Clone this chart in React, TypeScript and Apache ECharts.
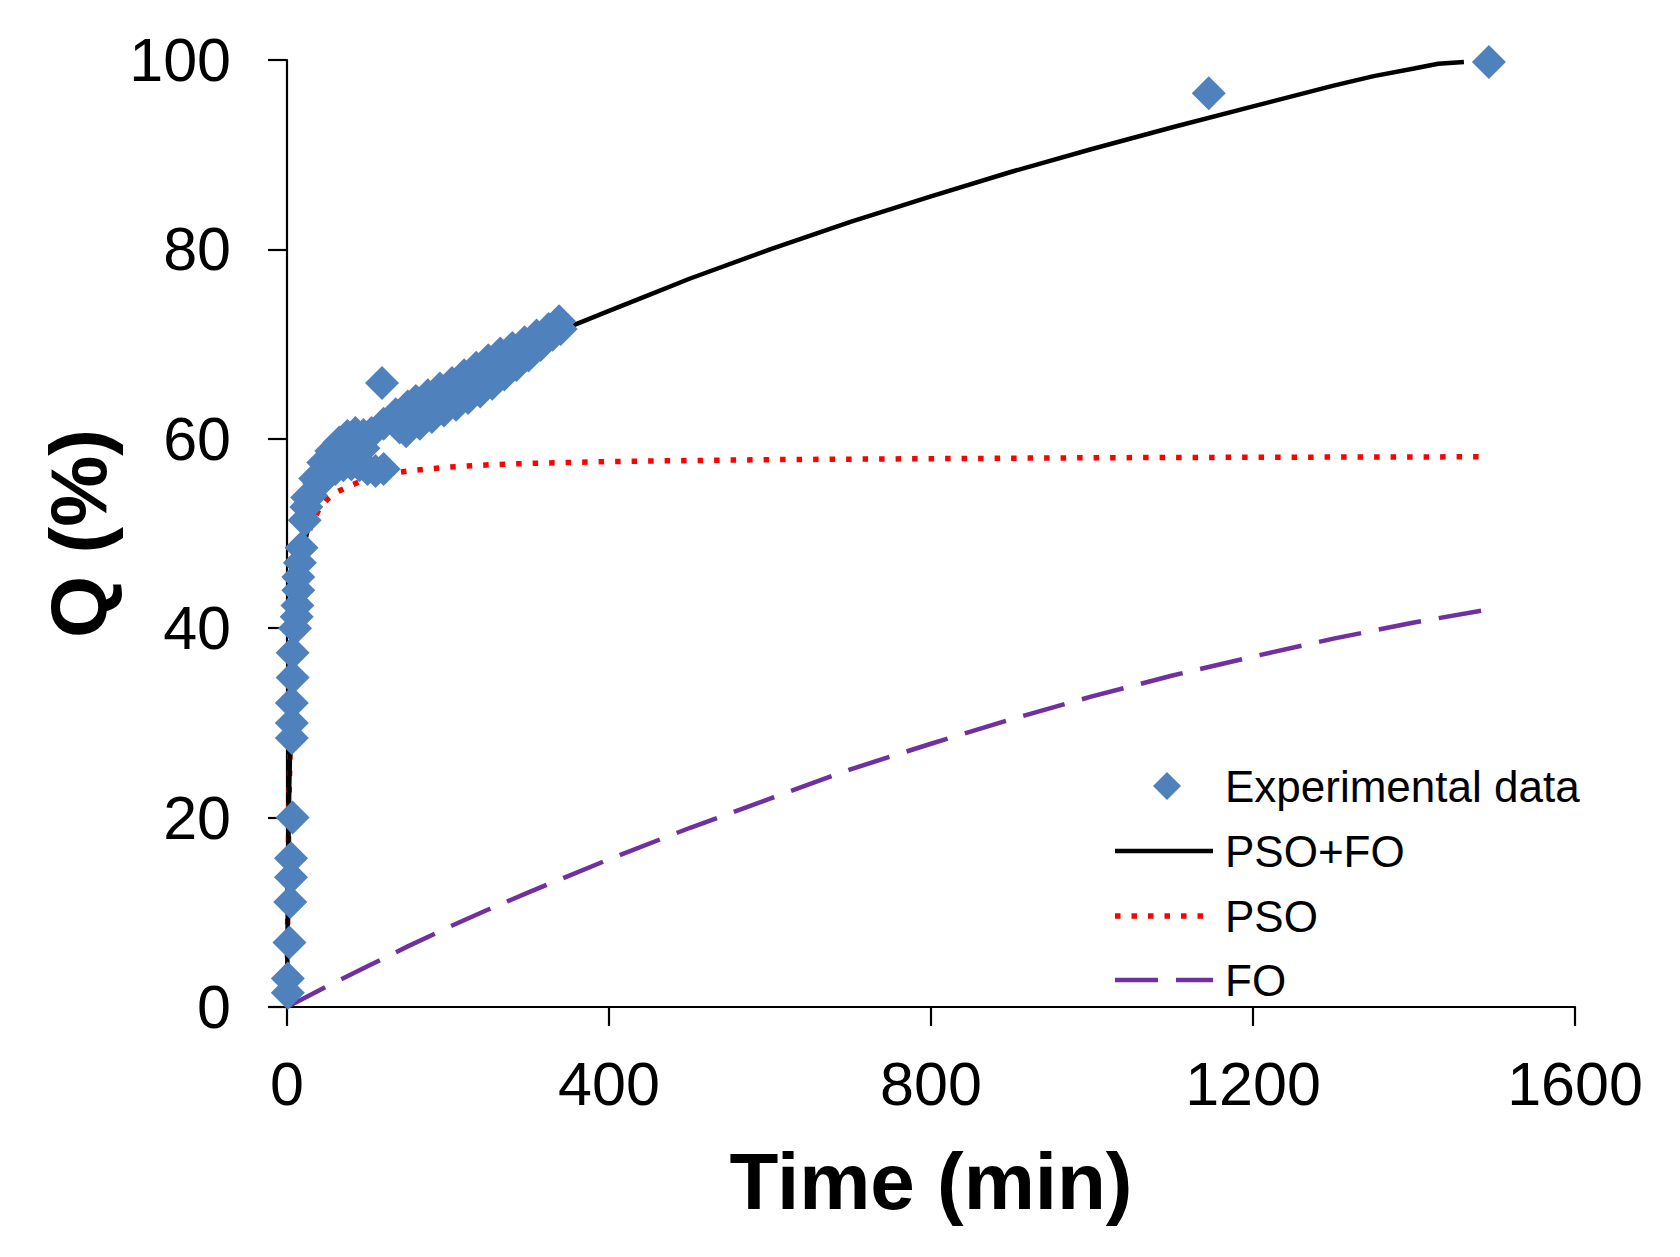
import React, { useEffect, useRef } from "react";
import * as echarts from "echarts";

// ---- Data ----
// Experimental data: [time (min), Q (%)]
const expEarly: number[][] = [
  [1, 1.5], [1, 3.0], [3, 6.8], [4, 11.1], [5, 13.7], [5, 15.7], [7, 20.0],
  [6, 28.4], [6, 30.0], [6, 32.1], [7, 34.8], [7, 37.4], [10, 40.0], [12, 41.2],
  [13, 42.4], [14, 44.0], [14, 45.4], [16, 46.9], [18, 48.5], [22, 51.4], [24, 52.8],
];
const expBandLower: number[][] = [
  [30, 54.0], [40, 55.3], [50, 56.2], [60, 56.8], [70, 57.2], [80, 57.3], [90, 57.2],
  [100, 56.8], [110, 56.6], [120, 56.8], [148, 60.8], [165, 61.6], [180, 62.3],
  [195, 63.0], [210, 63.6], [225, 64.3], [240, 65.0], [255, 65.8], [270, 66.8],
  [285, 67.8], [300, 68.8], [315, 69.9], [330, 71.0], [340, 71.6],
];
const expBandUpper: number[][] = [
  [25, 53.8], [35, 55.8], [45, 57.5], [55, 58.7], [65, 59.6], [75, 60.3], [85, 60.6],
  [95, 60.4], [105, 60.6], [120, 61.6], [135, 62.6], [150, 63.4], [160, 64.0],
  [175, 64.6], [190, 65.3], [205, 65.9], [220, 66.7], [235, 67.5], [250, 68.3],
  [265, 69.0], [280, 69.6], [295, 70.2], [310, 70.9], [325, 71.6], [338, 72.4],
];
const expBandMid: number[][] = [
  [45, 56.4], [70, 58.7], [95, 59.0], [140, 61.2], [170, 63.1], [200, 64.4],
  [230, 65.9], [260, 67.5], [290, 69.0], [320, 70.6],
];
const expOutliers: number[][] = [[118, 65.9]];
const expLate: number[][] = [[1145, 96.5], [1493, 99.8]];

// Model curves: [time (min), Q (%)]
const psoFo: number[][] = [
  [0, 0], [1, 11], [2, 18.5], [3, 24], [5, 31.3], [7, 36], [10, 40.8], [15, 45.4],
  [20, 48.4], [30, 51.8], [40, 54], [60, 56.6], [80, 58.2], [100, 59.5], [125, 61.0],
  [150, 62.4], [200, 64.8], [250, 67], [300, 69.4], [350, 71.8], [400, 73.5],
  [450, 75.2], [500, 76.9], [600, 80], [700, 82.9], [800, 85.6], [900, 88.2],
  [1000, 90.6], [1100, 92.9], [1200, 95.1], [1300, 97.3], [1350, 98.3], [1400, 99.1],
  [1430, 99.6], [1462, 99.8],
];
const pso: number[][] = [
  [0, 0], [1, 11], [2, 18.5], [3, 23.9], [5, 31.3], [7, 36.1], [10, 40.7], [15, 45.2],
  [20, 47.9], [30, 50.9], [40, 52.6], [50, 53.6], [60, 54.3], [80, 55.1], [100, 55.8],
  [125, 56.3], [150, 56.6], [200, 57.0], [250, 57.25], [300, 57.4], [400, 57.6],
  [600, 57.8], [800, 57.9], [1000, 58.0], [1200, 58.05], [1485, 58.1],
];
const fo: number[][] = [
  [0, 0], [50, 2.2], [100, 4.3], [150, 6.4], [200, 8.4], [250, 10.3], [300, 12.1],
  [400, 15.6], [500, 18.9], [600, 22.0], [700, 25.1], [800, 27.8], [900, 30.4],
  [1000, 32.8], [1100, 35.0], [1200, 37.0], [1300, 38.9], [1400, 40.6], [1500, 42.1],
];

const legendNames = ["Experimental data", "PSO+FO", "PSO", "FO"];
const xTickLabels = ["0", "400", "800", "1200", "1600"];

const FONT = "'Liberation Sans', Arial, sans-serif";
const BLUE = "#4F81BD";
const RED = "#FF0000";
const PURPLE = "#7030A0";

export default function App() {
  const ref = useRef<HTMLDivElement>(null);

  useEffect(() => {
    if (!ref.current) return;
    const chart = echarts.init(ref.current, null, { renderer: "svg" });
    const expData = [
      ...expEarly,
      ...expBandLower,
      ...expBandMid,
      ...expBandUpper,
      ...expOutliers,
      ...expLate,
    ];

    // Legend drawn as graphic elements (layout only, no data marks)
    const lgX = 1115;
    const lgW = 98;
    const lgTextX = 1225;
    const rowY = [786, 851, 916, 980];
    const textEls = legendNames.map((n, i) => ({
      type: "text",
      x: lgTextX,
      y: rowY[i],
      style: {
        text: n,
        fontFamily: FONT,
        fontSize: 44,
        fill: "#000",
        textAlign: "left",
        textVerticalAlign: "middle",
        verticalAlign: "middle",
      },
    }));
    const cx = lgX + lgW / 2 + 3;
    const half = 14;
    const legendGraphics = [
      {
        type: "polygon",
        shape: {
          points: [
            [cx, rowY[0] - half],
            [cx + half, rowY[0]],
            [cx, rowY[0] + half],
            [cx - half, rowY[0]],
          ],
        },
        style: { fill: BLUE },
      },
      {
        type: "line",
        shape: { x1: lgX, y1: rowY[1], x2: lgX + lgW, y2: rowY[1] },
        style: { stroke: "#000", lineWidth: 4.5 },
      },
      {
        type: "line",
        shape: { x1: lgX, y1: rowY[2], x2: lgX + lgW, y2: rowY[2] },
        style: { stroke: RED, lineWidth: 5.5, lineDash: [5.5, 11] },
      },
      {
        type: "line",
        shape: { x1: lgX, y1: rowY[3], x2: lgX + lgW, y2: rowY[3] },
        style: { stroke: PURPLE, lineWidth: 4.5, lineDash: [43, 18] },
      },
      ...textEls,
    ];

    chart.setOption({
      animation: false,
      backgroundColor: "#ffffff",
      textStyle: { fontFamily: FONT },
      grid: {
        left: 287,
        top: 60,
        right: 105,
        bottom: 250,
        containLabel: false,
        outerBoundsMode: "none",
      },
      graphic: legendGraphics,
      xAxis: {
        type: "value",
        min: 0,
        max: 1600,
        interval: 400,
        name: "Time (min)",
        nameLocation: "middle",
        nameGap: 134,
        nameTextStyle: {
          fontFamily: FONT,
          fontSize: 80,
          fontWeight: "bold",
          color: "#000",
          lineHeight: 80,
        },
        axisLine: { show: true, onZero: false, lineStyle: { color: "#000", width: 2.2 } },
        axisTick: { show: true, inside: false, length: 19, lineStyle: { color: "#000", width: 2.2 } },
        axisLabel: {
          show: true,
          margin: 46,
          fontFamily: FONT,
          fontSize: 61,
          color: "#000",
          lineHeight: 61,
          formatter: (v: number) => {
            const idx = Math.round(v / 400);
            return xTickLabels[idx] ?? String(v);
          },
        },
        splitLine: { show: false },
      },
      yAxis: {
        type: "value",
        min: 0,
        max: 100,
        interval: 20,
        name: "Q (%)",
        nameLocation: "middle",
        nameGap: 166,
        nameRotate: 90,
        nameTextStyle: {
          fontFamily: FONT,
          fontSize: 80,
          fontWeight: "bold",
          color: "#000",
          lineHeight: 80,
        },
        axisLine: { show: true, onZero: false, lineStyle: { color: "#000", width: 2.2 } },
        axisTick: { show: true, inside: false, length: 19, lineStyle: { color: "#000", width: 2.2 } },
        axisLabel: {
          show: true,
          margin: 56,
          fontFamily: FONT,
          fontSize: 61,
          color: "#000",
          lineHeight: 61,
        },
        splitLine: { show: false },
      },
      series: [
        {
          name: "FO",
          type: "line",
          data: fo,
          smooth: false,
          symbol: "none",
          showSymbol: false,
          lineStyle: { color: PURPLE, width: 4.5, type: [43, 18] },
          itemStyle: { color: PURPLE },
          z: 2,
        },
        {
          name: "PSO",
          type: "line",
          data: pso,
          smooth: false,
          symbol: "none",
          showSymbol: false,
          lineStyle: { color: RED, width: 5.5, type: [5.5, 11] },
          itemStyle: { color: RED },
          z: 3,
        },
        {
          name: "PSO+FO",
          type: "line",
          data: psoFo,
          smooth: false,
          symbol: "none",
          showSymbol: false,
          lineStyle: { color: "#000000", width: 4.5, type: "solid" },
          itemStyle: { color: "#000000" },
          z: 4,
        },
        {
          name: "Experimental data",
          type: "scatter",
          data: expData,
          symbol: "diamond",
          symbolSize: 34,
          itemStyle: { color: BLUE, opacity: 1 },
          z: 5,
        },
      ],
    });
    return () => chart.dispose();
  }, []);

  return (
    <div
      ref={ref}
      style={{
        position: "absolute",
        left: 0,
        top: 0,
        width: 1680,
        height: 1257,
        background: "#ffffff",
      }}
    />
  );
}
